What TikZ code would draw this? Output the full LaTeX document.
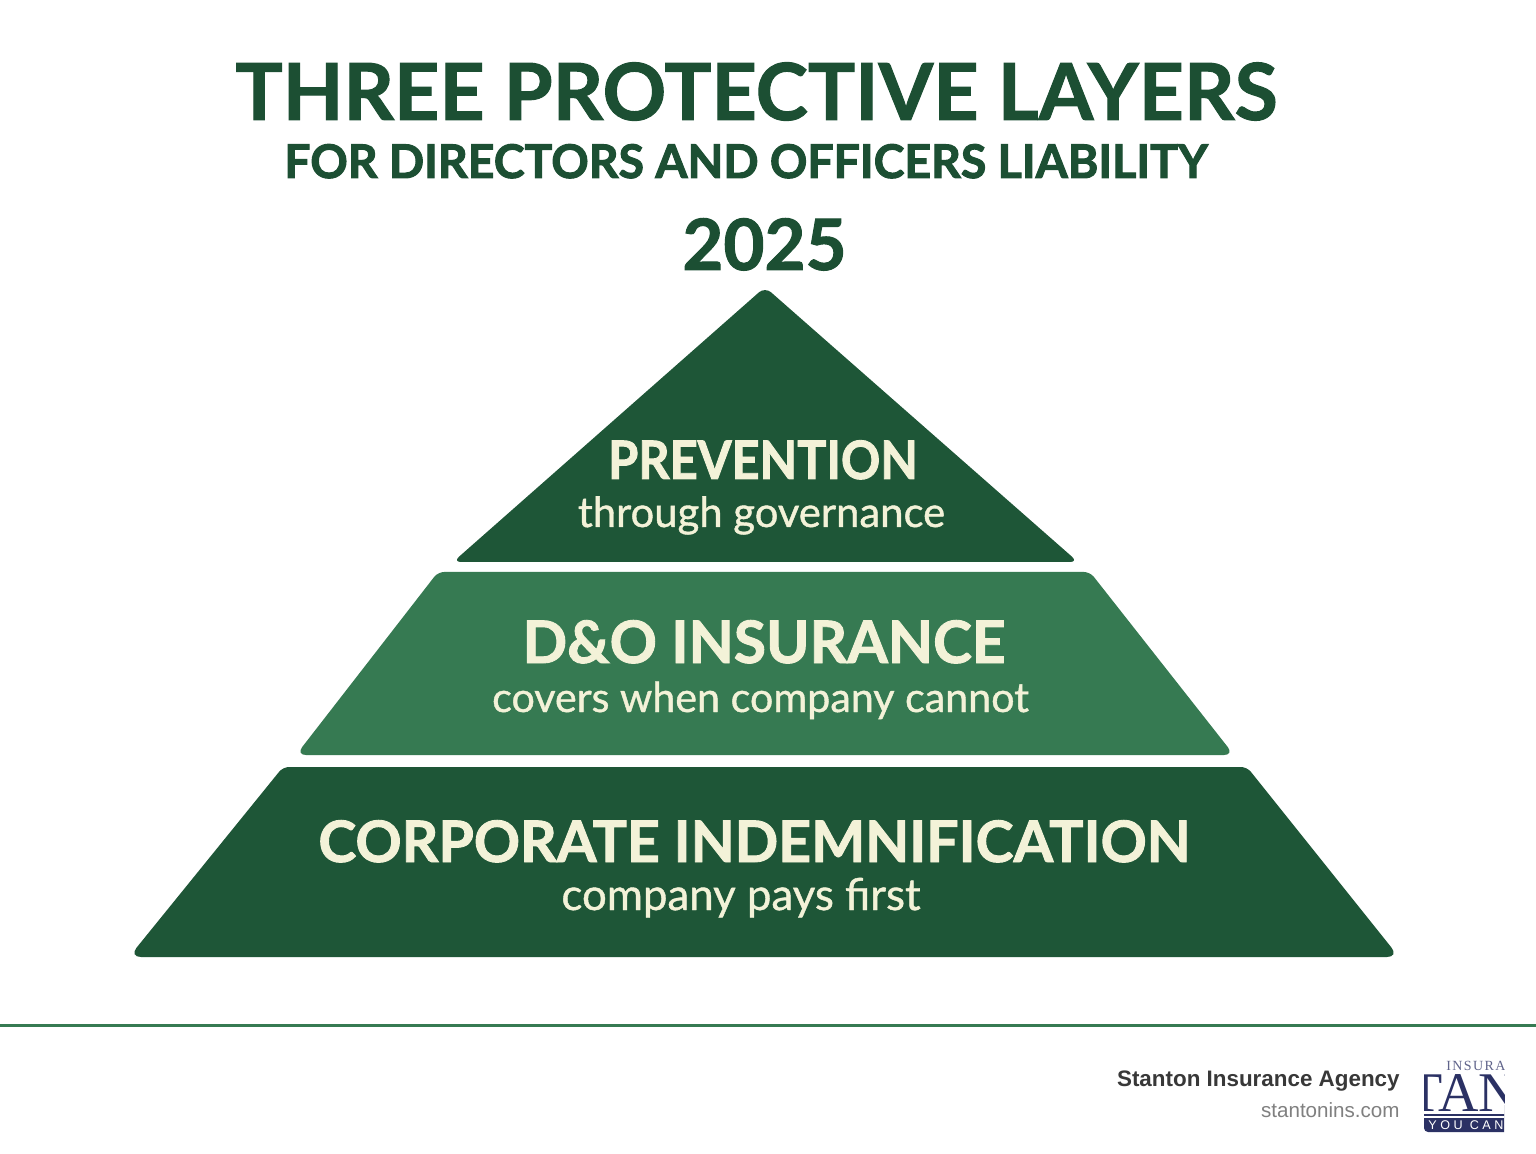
\documentclass[tikz,border=0pt]{standalone}
\usepackage{fontspec}
\setmainfont{Lato}
\newfontfamily\footfont{Liberation Sans}
\newfontfamily\logofont{Liberation Serif}
\newfontfamily\logowide[LetterSpace=10]{Liberation Serif}
\newfontfamily\logoband[LetterSpace=28]{Liberation Sans}
\definecolor{darkgreen}{HTML}{1E5637}
\definecolor{midgreen}{HTML}{367A52}
\definecolor{titlegreen}{HTML}{1C4F33}
\definecolor{cream}{HTML}{F3F2D8}
\definecolor{navy}{HTML}{2B3164}
\newcommand{\heavy}[1]{\special{pdf:code q 2 Tr 0.5 w 0.11 0.31 0.2 RG}#1\special{pdf:code Q}}
\newcommand{\creamheavy}[1]{\special{pdf:code q 2 Tr 0.45 w 0.953 0.949 0.847 RG}#1\special{pdf:code Q}}
\newcommand{\creamlight}[1]{\special{pdf:code q 2 Tr 0.2 w 0.953 0.949 0.847 RG}#1\special{pdf:code Q}}
\tikzset{
  titletext/.style={anchor=base,inner sep=0,text=titlegreen,font=\bfseries},
  headtext/.style={anchor=base,inner sep=0,text=cream,font=\bfseries},
  subtext/.style={anchor=base,inner sep=0,text=cream},
  logotext/.style={anchor=base west,inner sep=0},
}
\begin{document}
\begin{tikzpicture}[x=0.5pt,y=-0.5pt]
\useasboundingbox (0,0) rectangle (1536,1154);
\fill[white] (0,0) rectangle (1536,1154);
\fill[darkgreen,rounded corners=4pt] (765,287) -- (1078,562) -- (453,562) -- cycle;
\fill[midgreen,rounded corners=3pt] (438,572) -- (1090,572) [rounded corners=5pt] -- (1234,755) -- (296,755) [rounded corners=3pt] -- cycle;
\fill[darkgreen,rounded corners=3pt] (283,767) -- (1247,767) [rounded corners=6pt] -- (1399,957) -- (129,957) [rounded corners=3pt] -- cycle;
\node[titletext] (title) at (756.5,120) {\fontsize{39.4}{40}\selectfont\heavy{THREE PROTECTIVE LAYERS}};
\node[titletext] (subtitle) at (746,178) {\fontsize{23.2}{24}\selectfont\heavy{FOR DIRECTORS AND OFFICERS LIABILITY}};
\node[titletext] (year) at (764.5,270) {\fontsize{35.4}{36}\selectfont\heavy{2025}};
\node[headtext] (h1) at (763,479) {\scalebox{.92}[1]{\fontsize{26.5}{27}\selectfont\creamheavy{PREVENTION}}};
\node[subtext] (s1) at (761.5,527) {\fontsize{20.9}{21}\selectfont\creamlight{through governance}};
\node[headtext] (h2) at (764,663) {\fontsize{29.3}{30}\selectfont\creamheavy{D\&O INSURANCE}};
\node[subtext] (s2) at (760.5,712) {\fontsize{20.6}{21}\selectfont\creamlight{covers when company cannot}};
\node[headtext] (h3) at (754.5,862) {\fontsize{28.6}{29}\selectfont\creamheavy{CORPORATE INDEMNIFICATION}};
\node[subtext] (s3) at (741,910) {\fontsize{21.9}{22}\selectfont\creamlight{company pays first}};
\draw[midgreen,line width=1.5pt] (0,1025) -- (1536,1025);
\node[anchor=base east,inner sep=0,text=black!78,font=\footfont\bfseries\fontsize{11.2}{12}\selectfont] (agency) at (1400,1086) {Stanton Insurance Agency};
\node[anchor=base east,inner sep=0,text=black!50,font=\footfont\fontsize{10.3}{11}\selectfont] (site) at (1400,1117) {stantonins.com};
\begin{scope}
\clip (1424,1058) rectangle (1504,1134);
\fill[navy,rounded corners=2pt] (1424,1105) rectangle (1530,1132);
\fill[white] (1424,1100) rectangle (1530,1118);
\fill[navy] (1424,1114) rectangle (1530,1115.5);
\node[logotext,text=navy!75,font=\logowide\fontsize{7}{7}\selectfont] (logotop) at (1446,1070) {INSURA};
\node[logotext,text=navy,font=\logofont\fontsize{28}{28}\selectfont] (logomid) at (1408,1111) {TAN};
\node[logotext,text=white,font=\logoband\fontsize{6.3}{7}\selectfont] (logobot) at (1428,1129) {YOU CAN};
\end{scope}
\end{tikzpicture}
\end{document}
